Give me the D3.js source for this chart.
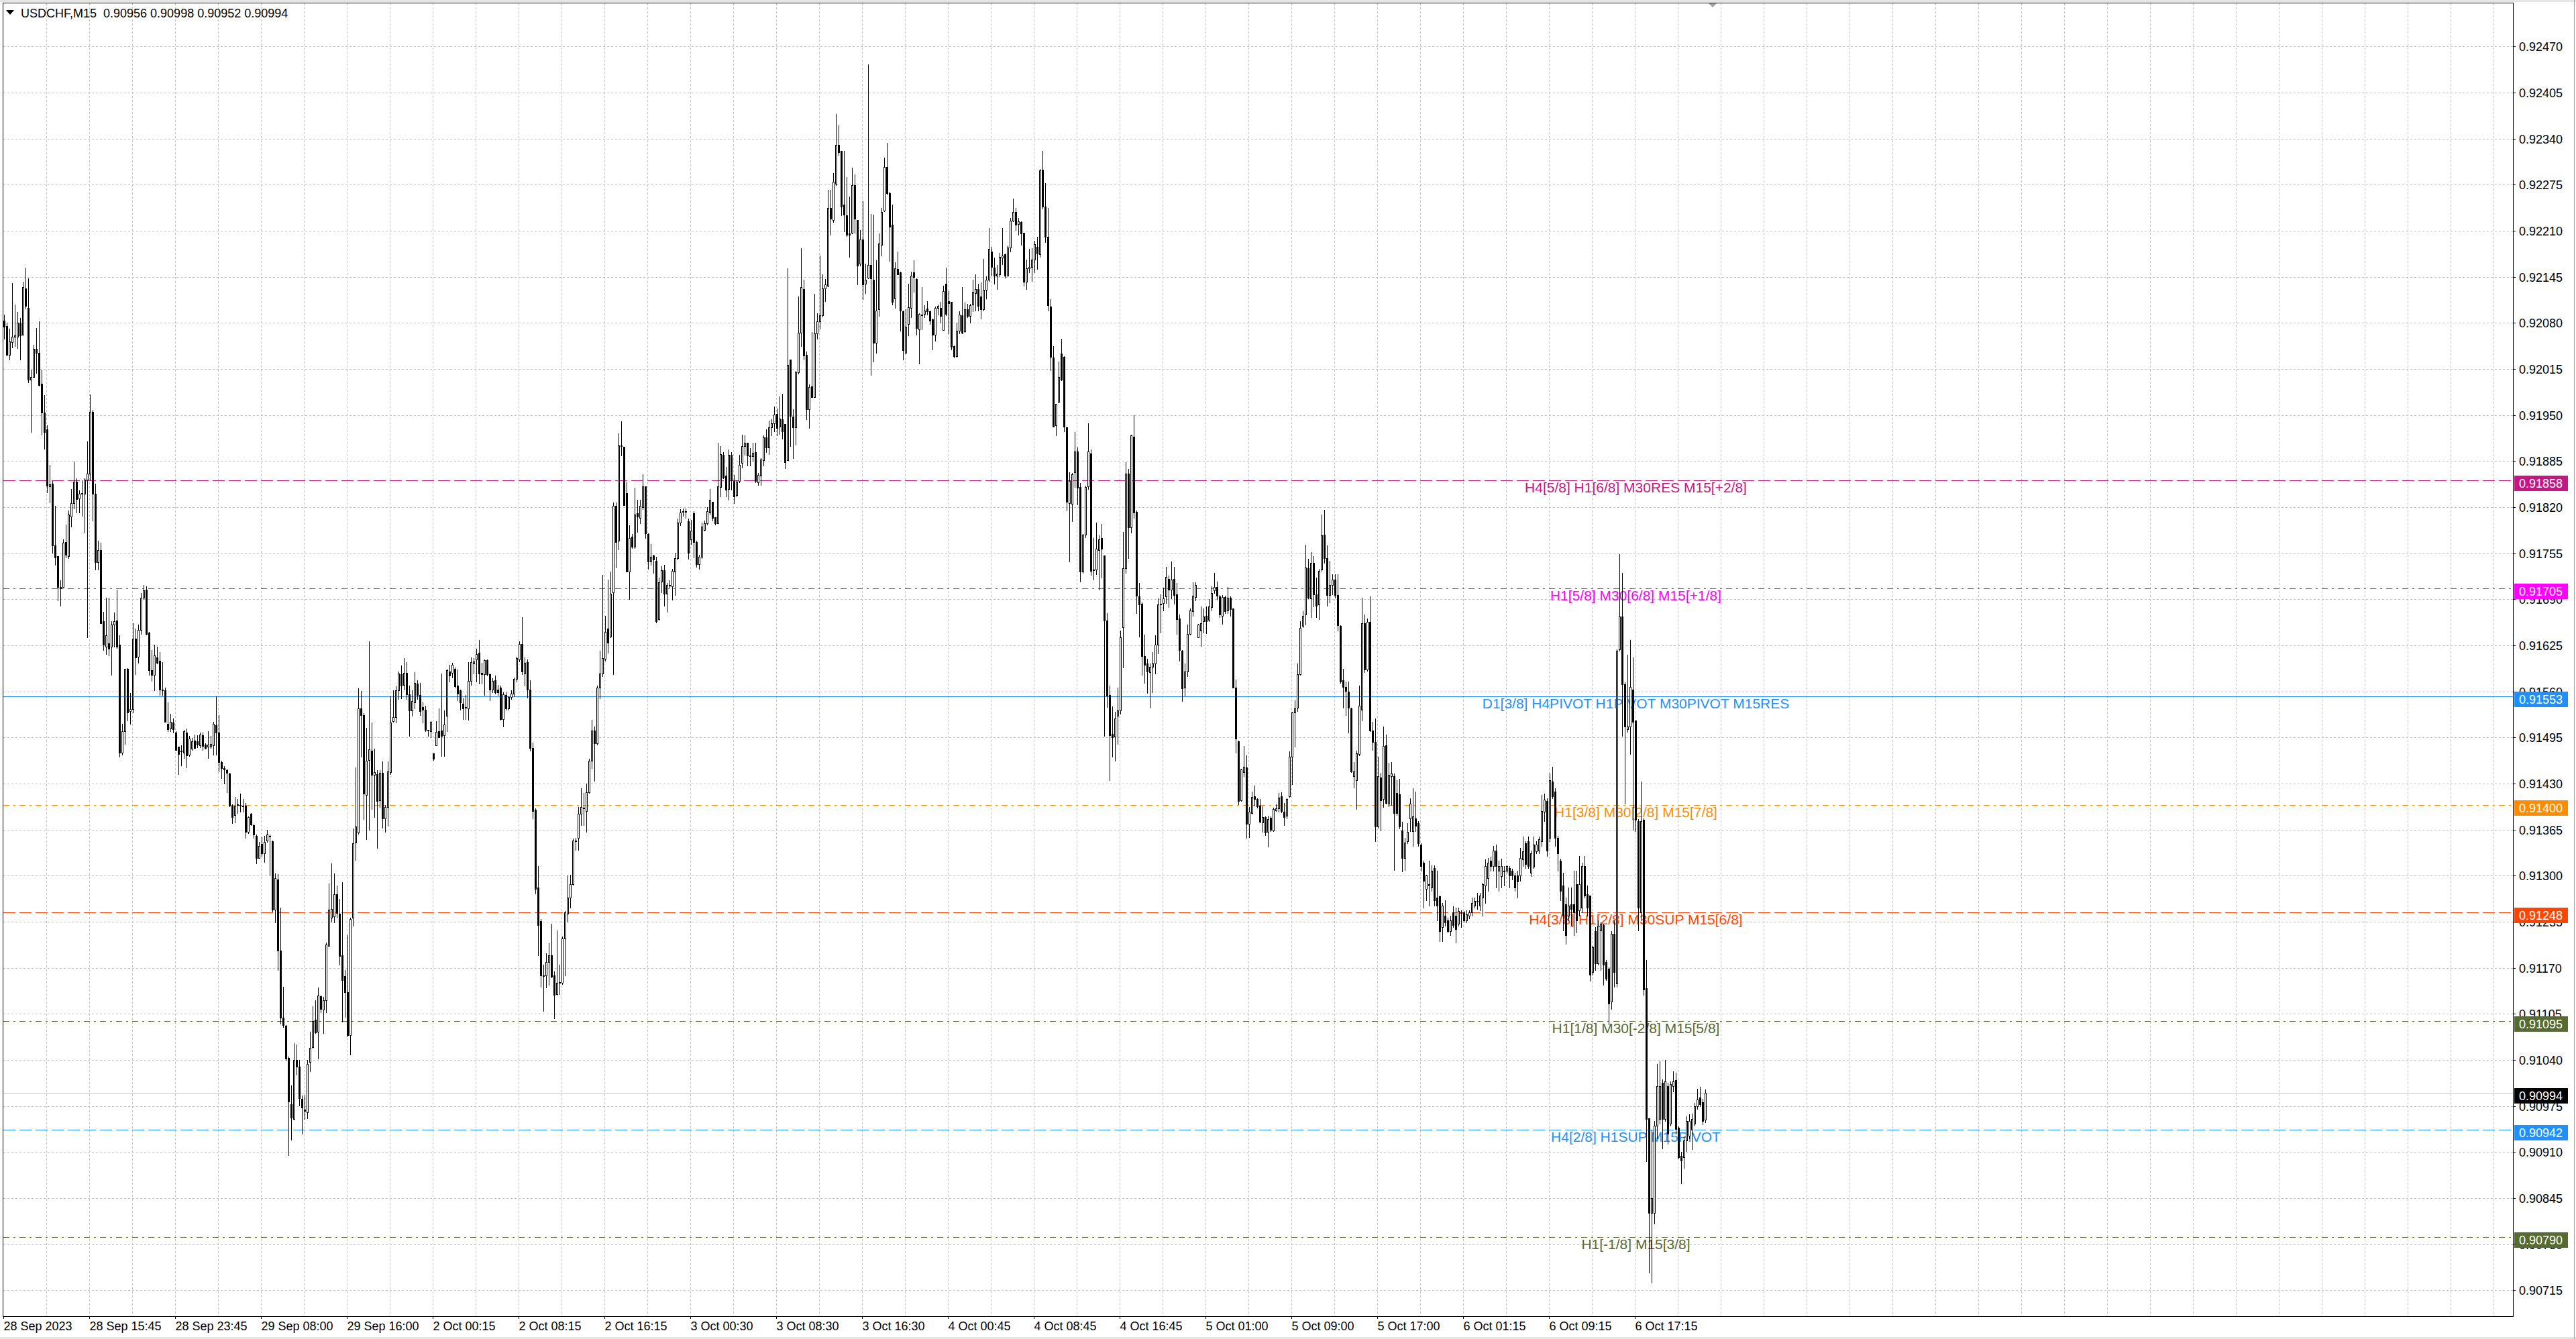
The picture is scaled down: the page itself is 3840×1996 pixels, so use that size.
<!DOCTYPE html>
<html>
<head>
<meta charset="utf-8">
<script src="https://cdn.jsdelivr.net/npm/d3@7"></script>
<style>
  html, body { margin: 0; padding: 0; background: #fff; overflow: hidden; }
  svg { display: block; }
  text { font-family: "Liberation Sans", Arial, sans-serif; }
</style>
</head>
<body>
<div id="chart"></div>
<script>
// USDCHF M15, prices in points above 0.90000 (1 point = 0.00001)
const SYMBOL = 'USDCHF,M15';
const BASE = 0.9, POINT = 0.00001;

const opens = [
  2083,2076,2035,2053,2060,2060,2080,2063,2129,2101, 2000,2004,2043,2038,1994,1953,1930,1849,1853,1766,
  1751,1707,1707,1771,1751,1807,1826,1856,1832,1840, 1839,1859,1867,1954,1839,1742,1759,1659,1623,1628,
  1623,1654,1660,1626,1474,1504,1592,1532,1535,1634, 1609,1647,1692,1704,1643,1590,1583,1608,1603,1563,
  1562,1514,1508,1516,1502,1482,1476,1474,1502,1471, 1479,1491,1490,1484,1498,1485,1482,1482,1484,1512,
  1502,1460,1452,1449,1444,1399,1386,1400,1400,1399, 1399,1362,1387,1371,1356,1325,1345,1332,1350,1356,
  1349,1252,1295,1194,1100,1088,1043,978,957,1040, 1031,985,970,966,1037,1058,1097,1080,1130,1111,
  1124,1201,1241,1243,1274,1246,1188,1158,1136,1075, 1241,1347,1361,1536,1527,1414,1463,1476,1442,1443,
  1406,1445,1381,1397,1446,1518,1524,1562,1584,1569, 1586,1556,1533,1545,1571,1555,1538,1534,1506,1504,
  1473,1484,1504,1505,1498,1526,1588,1586,1592,1568, 1562,1543,1538,1536,1575,1599,1605,1615,1586,1584,
  1604,1584,1563,1576,1563,1565,1521,1555,1536,1552, 1557,1578,1605,1627,1585,1601,1563,1480,1393,1283,
  1236,1159,1159,1178,1188,1159,1133,1149,1149,1211, 1246,1269,1288,1350,1353,1387,1396,1391,1418,1462,
  1505,1487,1565,1585,1606,1649,1637,1700,1822,1773, 1907,1905,1840,1729,1778,1764,1811,1805,1820,1849,
  1782,1743,1752,1744,1662,1715,1731,1698,1710,1708, 1729,1748,1798,1814,1813,1800,1775,1811,1771,1740,
  1750,1788,1797,1812,1828,1806,1797,1848,1894,1864, 1846,1894,1857,1837,1857,1882,1906,1911,1893,1892,
  1898,1855,1864,1886,1918,1904,1933,1938,1952,1934, 1944,1937,1886,2028,1948,1933,2010,2066,2128,2035,
  1958,1990,1975,2065,2082,2091,2129,2132,2242,2225, 2276,2331,2323,2247,2232,2206,2207,2274,2225,2164,
  2198,2135,2144,2162,2141,2052,2099,2190,2238,2300, 2263,2218,2114,2156,2151,2096,2038,2078,2101,2151,
  2142,2071,2092,2093,2100,2096,2085,2063,2101,2101, 2070,2135,2111,2110,2047,2033,2069,2091,2068,2099,
  2090,2106,2122,2128,2117,2099,2127,2141,2181,2158, 2147,2148,2172,2177,2147,2186,2224,2236,2219,2222,
  2207,2138,2157,2159,2169,2187,2177,2296,2244,2201, 2103,2031,1935,1969,2037,2032,1933,1826,1825,1869,
  1899,1848,1729,1781,1849,1896,1732,1732,1759,1776, 1752,1660,1555,1500,1496,1526,1533,1651,1734,1867,
  1792,1919,1813,1694,1684,1610,1599,1587,1595,1599, 1626,1683,1685,1694,1719,1704,1719,1697,1663,1617,
  1565,1588,1641,1673,1693,1636,1646,1659,1667,1661, 1679,1703,1707,1694,1667,1693,1674,1692,1677,1565,
  1490,1406,1446,1453,1373,1388,1412,1408,1399,1375, 1383,1362,1382,1364,1392,1395,1412,1390,1385,1412,
  1468,1530,1537,1584,1652,1669,1734,1691,1741,1697, 1683,1732,1781,1748,1696,1710,1718,1696,1652,1576,
  1566,1560,1536,1440,1435,1472,1534,1656,1591,1658, 1505,1489,1369,1439,1408,1484,1402,1440,1440,1417,
  1415,1364,1325,1349,1381,1363,1381,1374,1344,1318, 1281,1286,1283,1311,1269,1271,1227,1244,1237,1222,
  1248,1244,1232,1248,1248,1237,1244,1248,1258,1264, 1258,1269,1286,1297,1321,1314,1335,1307,1299,1307,
  1307,1311,1307,1300,1300,1300,1323,1346,1349,1304, 1313,1334,1335,1349,1390,1405,1353,1433,1419,1353,
  1321,1286,1260,1244,1260,1260,1288,1251,1255,1314, 1274,1272,1164,1222,1176,1223,1230,1178,1169,1122,
  1218,1148,1619,1666,1570,1507,1510,1563,1519,1377, 1248,1379,1141,958,824,824,947,957,1008,957,
  1003,950,1003,1012,944,905,903,926,933,942, 950,975,987,980,956
];

const highs = [
  2092,2080,2072,2136,2106,2095,2087,2138,2158,2143, 2014,2049,2073,2082,2014,1978,1935,1880,1857,1822,
  1751,1717,1775,1795,1815,1846,1884,1861,1844,1858, 1861,1913,1979,1957,1853,1773,1770,1672,1692,1692,
  1659,1671,1704,1639,1514,1592,1593,1558,1656,1649, 1654,1699,1710,1708,1644,1618,1626,1623,1616,1601,
  1565,1545,1528,1522,1504,1482,1484,1506,1508,1497, 1494,1499,1498,1502,1502,1487,1504,1497,1517,1553,
  1527,1462,1455,1451,1445,1401,1411,1408,1416,1408, 1403,1384,1388,1372,1358,1348,1354,1356,1365,1358,
  1350,1303,1302,1255,1143,1089,1045,1004,1064,1062, 1040,990,990,1040,1080,1116,1124,1142,1131,1129,
  1206,1289,1317,1303,1286,1267,1291,1167,1216,1241, 1367,1453,1564,1561,1529,1509,1631,1516,1479,1449,
  1449,1461,1400,1461,1553,1562,1567,1588,1597,1607, 1601,1568,1562,1587,1576,1572,1545,1540,1506,1518,
  1473,1518,1536,1585,1533,1592,1598,1600,1594,1591, 1563,1550,1555,1601,1608,1607,1620,1633,1600,1605,
  1605,1585,1579,1582,1569,1568,1559,1559,1553,1562, 1580,1609,1631,1665,1608,1605,1576,1488,1395,1314,
  1239,1174,1191,1205,1232,1165,1223,1174,1214,1250, 1300,1301,1352,1353,1397,1423,1417,1430,1465,1520,
  1510,1568,1617,1724,1667,1718,1729,1827,1827,1924, 1941,1905,1855,1794,1782,1847,1830,1830,1866,1849,
  1783,1768,1753,1750,1721,1737,1739,1713,1717,1733, 1756,1804,1817,1818,1818,1804,1802,1814,1773,1753,
  1798,1801,1820,1846,1828,1806,1911,1906,1898,1877, 1901,1898,1865,1858,1894,1922,1921,1911,1903,1911,
  1911,1868,1889,1921,1930,1942,1944,1962,1959,1976, 1980,1937,2157,2028,1958,2012,2117,2185,2141,2040,
  1993,2067,2121,2094,2175,2148,2142,2268,2268,2291, 2375,2359,2323,2323,2286,2258,2299,2289,2225,2211,
  2252,2164,2445,2234,2233,2168,2206,2242,2313,2334, 2265,2247,2165,2181,2152,2097,2099,2135,2152,2168,
  2143,2094,2130,2105,2111,2097,2086,2103,2106,2110, 2132,2158,2125,2110,2048,2080,2096,2130,2109,2107,
  2107,2141,2148,2135,2137,2170,2146,2214,2187,2172, 2162,2179,2214,2178,2189,2228,2255,2242,2228,2223,
  2207,2169,2184,2185,2196,2201,2297,2323,2277,2242, 2113,2047,1966,2025,2058,2033,1934,1869,1868,1926,
  1904,1854,1782,1850,1938,1901,1776,1798,1780,1796, 1752,1670,1568,1539,1531,1565,1646,1785,1883,1874,
  1922,1950,1815,1713,1686,1640,1606,1599,1616,1639, 1691,1697,1706,1736,1723,1743,1736,1713,1669,1618,
  1599,1654,1677,1714,1714,1655,1680,1677,1680,1690, 1708,1727,1715,1696,1696,1695,1707,1694,1677,1577,
  1491,1451,1483,1470,1397,1419,1427,1409,1408,1398, 1384,1385,1384,1396,1401,1417,1418,1403,1409,1475,
  1531,1547,1599,1659,1673,1767,1747,1757,1751,1721, 1733,1810,1816,1766,1744,1725,1725,1725,1653,1592,
  1574,1574,1537,1460,1476,1568,1692,1669,1663,1694, 1517,1522,1468,1445,1510,1499,1459,1460,1444,1435,
  1437,1376,1353,1374,1409,1423,1419,1377,1346,1321, 1301,1321,1315,1315,1307,1272,1262,1265,1241,1244,
  1257,1255,1255,1251,1250,1251,1251,1269,1269,1276, 1276,1290,1323,1325,1327,1342,1344,1321,1324,1314,
  1315,1314,1310,1304,1307,1339,1355,1349,1355,1335, 1355,1349,1355,1414,1416,1409,1444,1454,1423,1356,
  1324,1304,1269,1283,1283,1307,1307,1328,1318,1328, 1286,1272,1201,1227,1237,1234,1232,1181,1171,1222,
  1237,1619,1754,1727,1573,1612,1633,1608,1519,1380, 1433,1381,1181,958,941,954,1034,1038,1013,1040,
  1008,1010,1024,1022,946,910,932,961,963,964, 979,999,1002,985,998
];

const lows = [
  2058,2035,2028,2045,2047,2044,2028,2063,2100,1996, 1926,2004,2009,1991,1922,1902,1841,1827,1756,1739,
  1688,1681,1707,1749,1748,1793,1818,1812,1812,1808, 1784,1636,1859,1801,1732,1732,1656,1618,1613,1611,
  1583,1623,1621,1468,1471,1486,1519,1514,1530,1584, 1600,1641,1690,1640,1583,1575,1562,1599,1555,1555,
  1517,1504,1504,1502,1477,1443,1456,1466,1453,1469, 1477,1479,1481,1481,1477,1479,1466,1480,1471,1471,
  1447,1438,1430,1418,1398,1374,1375,1388,1390,1390, 1353,1360,1371,1353,1317,1325,1328,1319,1348,1301,
  1249,1234,1167,1091,1086,1040,906,927,956,1019, 976,936,957,958,1024,1057,1078,1042,1107,1078,
  1107,1201,1235,1234,1241,1174,1094,1101,1073,1048, 1229,1322,1359,1468,1380,1351,1365,1394,1383,1339,
  1397,1368,1362,1370,1443,1517,1516,1549,1550,1563, 1549,1497,1526,1536,1549,1527,1516,1504,1497,1495,
  1463,1484,1495,1469,1469,1504,1574,1580,1565,1547, 1534,1521,1521,1520,1569,1585,1574,1571,1571,1555,
  1582,1547,1559,1557,1555,1520,1510,1534,1534,1549, 1553,1574,1602,1584,1568,1551,1476,1381,1275,1188,
  1143,1109,1142,1146,1156,1099,1132,1133,1147,1159, 1235,1255,1287,1336,1336,1371,1371,1362,1417,1452,
  1434,1485,1550,1581,1603,1615,1636,1584,1735,1760, 1893,1823,1729,1690,1762,1762,1785,1797,1817,1776,
  1733,1739,1727,1657,1661,1700,1681,1672,1706,1689, 1696,1746,1794,1808,1805,1747,1768,1749,1736,1733,
  1748,1787,1795,1810,1801,1795,1797,1835,1861,1835, 1830,1845,1826,1835,1855,1876,1894,1879,1879,1885,
  1855,1851,1851,1879,1898,1895,1921,1927,1921,1923, 1917,1875,1886,1906,1889,1908,2008,2047,2028,1944,
  1932,1975,1975,2058,2072,2089,2111,2131,2204,2222, 2274,2317,2232,2209,2202,2173,2206,2207,2134,2161,
  2113,2122,2143,2006,2025,2038,2090,2175,2237,2261, 2167,2106,2101,2148,2069,2028,2038,2062,2088,2124,
  2063,2023,2071,2088,2092,2078,2042,2055,2092,2080, 2070,2091,2065,2042,2031,2032,2065,2065,2067,2088,
  2080,2096,2097,2097,2086,2097,2114,2139,2147,2135, 2128,2146,2163,2144,2147,2181,2223,2211,2204,2190,
  2132,2128,2151,2139,2151,2156,2173,2241,2194,2097, 2013,1934,1921,1968,1999,1927,1815,1743,1800,1848,
  1824,1715,1727,1777,1846,1724,1718,1725,1704,1721, 1497,1538,1435,1468,1462,1486,1528,1594,1727,1748,
  1784,1805,1670,1637,1583,1572,1558,1537,1559,1585, 1614,1643,1674,1685,1679,1691,1684,1641,1603,1546,
  1554,1581,1640,1667,1688,1636,1624,1643,1642,1659, 1674,1699,1689,1665,1655,1670,1670,1667,1565,1474,
  1401,1405,1440,1353,1354,1387,1399,1396,1375,1362, 1357,1341,1363,1363,1391,1390,1389,1371,1381,1411,
  1429,1482,1532,1583,1651,1654,1691,1665,1680,1665, 1662,1730,1741,1681,1686,1697,1692,1646,1572,1537,
  1527,1502,1446,1424,1394,1470,1519,1587,1589,1504, 1477,1349,1368,1364,1397,1402,1398,1400,1308,1386,
  1367,1306,1308,1346,1363,1342,1363,1342,1307,1255, 1265,1258,1279,1258,1237,1208,1208,1229,1220,1216,
  1227,1206,1229,1227,1235,1234,1240,1244,1255,1253, 1251,1244,1262,1279,1307,1307,1283,1279,1283,1286,
  1304,1283,1295,1279,1269,1293,1314,1311,1311,1299, 1311,1332,1332,1342,1377,1328,1349,1409,1342,1307,
  1265,1223,1204,1237,1230,1216,1220,1244,1248,1269, 1244,1152,1160,1167,1174,1167,1146,1153,1090,1112,
  1143,1143,1617,1497,1402,1503,1472,1365,1363,1223, 1237,1132,897,740,726,809,929,950,915,954,
  922,947,996,936,901,866,888,911,929,914, 947,971,975,949,952
];

const closes = [
  2075,2035,2054,2060,2062,2080,2062,2130,2104,2000, 2004,2043,2038,1992,1953,1926,1850,1852,1766,1749,
  1707,1705,1770,1753,1810,1826,1856,1831,1839,1840, 1859,1867,1954,1839,1742,1759,1656,1626,1639,1620,
  1654,1659,1623,1474,1504,1592,1530,1535,1634,1608, 1647,1692,1703,1641,1590,1583,1611,1600,1563,1563,
  1517,1507,1517,1507,1477,1472,1476,1504,1470,1493, 1490,1480,1485,1499,1483,1480,1485,1486,1514,1502,
  1460,1452,1450,1445,1399,1383,1399,1401,1400,1398, 1362,1383,1372,1358,1325,1342,1332,1348,1358,1356,
  1252,1297,1194,1100,1089,1042,981,959,1040,1031, 986,973,968,1034,1057,1095,1079,1131,1112,1124,
  1203,1252,1253,1274,1247,1187,1153,1136,1075,1239, 1346,1369,1536,1527,1416,1462,1478,1442,1446,1405,
  1445,1381,1397,1447,1516,1524,1562,1585,1568,1586, 1556,1533,1546,1572,1555,1532,1534,1506,1506,1517,
  1465,1503,1495,1497,1513,1590,1582,1598,1567,1557, 1545,1536,1538,1575,1601,1602,1613,1585,1584,1604,
  1584,1563,1575,1559,1559,1521,1556,1536,1552,1557, 1578,1607,1627,1588,1600,1563,1480,1391,1281,1230,
  1159,1159,1178,1188,1157,1132,1149,1150,1211,1248, 1269,1288,1350,1350,1387,1397,1396,1418,1462,1505,
  1487,1565,1585,1607,1644,1629,1698,1822,1771,1907, 1907,1823,1729,1776,1764,1810,1807,1822,1849,1783,
  1743,1750,1746,1659,1714,1731,1698,1710,1710,1730, 1748,1798,1812,1814,1814,1756,1787,1771,1740,1750,
  1793,1797,1814,1830,1805,1797,1849,1895,1862,1845, 1894,1858,1835,1856,1880,1906,1911,1893,1893,1897,
  1857,1865,1887,1918,1904,1933,1938,1951,1932,1945, 1927,1883,2021,1949,1933,2010,2066,2130,2034,1958,
  1989,1975,2065,2082,2091,2129,2134,2242,2227,2279, 2331,2321,2244,2233,2204,2204,2274,2227,2161,2198,
  2134,2141,2162,2143,2052,2097,2192,2236,2300,2263, 2216,2110,2157,2148,2097,2041,2075,2102,2147,2145,
  2073,2093,2092,2097,2096,2083,2063,2101,2104,2090, 2125,2093,2108,2046,2033,2069,2092,2066,2099,2090,
  2105,2124,2128,2104,2099,2127,2141,2184,2159,2147, 2149,2173,2175,2147,2186,2224,2236,2218,2223,2206,
  2138,2157,2159,2169,2191,2178,2295,2244,2201,2105, 2032,1934,1966,2004,2000,1934,1828,1857,1866,1899,
  1847,1729,1781,1848,1899,1730,1732,1761,1775,1761, 1660,1554,1498,1495,1522,1533,1636,1734,1867,1792,
  1921,1812,1695,1683,1610,1598,1588,1595,1599,1626, 1683,1684,1691,1722,1704,1718,1696,1662,1618,1564,
  1588,1641,1674,1695,1710,1654,1656,1666,1659,1680, 1699,1707,1695,1669,1693,1673,1692,1676,1565,1493,
  1405,1450,1454,1373,1390,1411,1408,1398,1376,1383, 1361,1380,1365,1394,1395,1410,1391,1383,1408,1468,
  1530,1536,1584,1650,1667,1735,1692,1741,1697,1681, 1730,1780,1748,1696,1710,1718,1696,1653,1574,1566,
  1561,1537,1447,1447,1473,1540,1656,1591,1658,1505, 1489,1369,1440,1406,1483,1403,1442,1444,1388,1388,
  1369,1325,1347,1362,1402,1384,1370,1346,1314,1293, 1300,1288,1307,1265,1258,1222,1258,1234,1222,1237,
  1230,1225,1250,1248,1237,1245,1248,1262,1264,1264, 1272,1288,1314,1318,1314,1335,1314,1314,1314,1307,
  1314,1300,1300,1283,1292,1325,1334,1316,1314,1332, 1344,1344,1351,1391,1407,1335,1435,1412,1353,1332,
  1279,1244,1216,1258,1253,1248,1237,1288,1314,1272, 1255,1160,1199,1176,1229,1232,1174,1155,1120,1218,
  1164,1617,1666,1570,1510,1510,1566,1517,1379,1255, 1377,1139,957,824,845,947,1003,1003,957,1010,
  936,1006,1010,943,903,898,926,954,954,957, 975,984,978,954,994
];

// right scale ticks
const priceTicks = [
  0.92470, 0.92405, 0.92340, 0.92275, 0.92210, 0.92145, 0.92080, 0.92015, 0.91950, 0.91885,
  0.91820, 0.91755, 0.91690, 0.91625, 0.91560, 0.91495, 0.91430, 0.91365, 0.91300, 0.91235,
  0.91170, 0.91105, 0.91040, 0.90975, 0.90910, 0.90845, 0.90780, 0.90715
];

// time axis: one label every 32 bars
const timeLabels = [
  '28 Sep 2023', '28 Sep 15:45', '28 Sep 23:45', '29 Sep 08:00', '29 Sep 16:00',
  '2 Oct 00:15', '2 Oct 08:15', '2 Oct 16:15', '3 Oct 00:30', '3 Oct 08:30',
  '3 Oct 16:30', '4 Oct 00:45', '4 Oct 08:45', '4 Oct 16:45', '5 Oct 01:00',
  '5 Oct 09:00', '5 Oct 17:00', '6 Oct 01:15', '6 Oct 09:15', '6 Oct 17:15'
];
const timeLabelBars = [0, 32, 64, 96, 128, 160, 192, 224, 256, 288, 320, 352, 384, 416, 448, 480, 512, 544, 576, 608];

// murrey / pivot levels
const levelPrices = [0.91858, 0.91705, 0.91553, 0.91400, 0.91248, 0.91095, 0.90942, 0.90790];
const levelLabels = [
  'H4[5/8] H1[6/8] M30RES M15[+2/8]',
  'H1[5/8] M30[6/8] M15[+1/8]',
  'D1[3/8] H4PIVOT H1PIVOT M30PIVOT M15RES',
  'H1[3/8] M30[2/8] M15[7/8]',
  'H4[3/8] H1[2/8] M30SUP M15[6/8]',
  'H1[1/8] M30[-2/8] M15[5/8]',
  'H4[2/8] H1SUP M15PIVOT',
  'H1[-1/8] M15[3/8]'
];
const labelBar = 608;

// ---- styles ----
const levelStyles = [
  { color: '#C71585', dash: '18,6' },
  { color: '#FF00FF', dash: '9,6,3,6' },
  { color: '#1E90FF', dash: null },
  { color: '#FF8C00', dash: '9,6,3,6' },
  { color: '#FF4500', dash: '18,6' },
  { color: '#556B2F', dash: '9,6,3,6' },
  { color: '#1E90FF', dash: '18,6' },
  { color: '#556B2F', dash: '9,6,3,6' }
];

const W = 3840, H = 1996;
const plot = { left: 5, top: 5, right: 3746, bottom: 1962 };
const N = closes.length;
const toPrice = v => BASE + v * POINT;

const x = d3.scaleLinear().domain([0, N]).range([plot.left, plot.left + 4 * N]);
const y = d3.scaleLinear().domain([0.906780, 0.925313]).range([1962.5, 4.5]);
const py = p => Math.round(y(p));

const svg = d3.select('#chart').append('svg')
  .attr('width', W).attr('height', H)
  .attr('shape-rendering', 'crispEdges');

svg.append('rect').attr('width', W).attr('height', H).attr('fill', '#fff');

// grid
const grid = svg.append('g').attr('stroke', '#C0C0C0').attr('stroke-dasharray', '3,3');
grid.selectAll('line.h').data(priceTicks).join('line')
  .attr('x1', plot.left).attr('x2', plot.right)
  .attr('y1', d => py(d) + 0.5).attr('y2', d => py(d) + 0.5);
const vGrid = d3.range(16, 16 * 59, 16).filter(i => x(i) < plot.right);
grid.selectAll('line.v').data(vGrid).join('line')
  .attr('x1', d => x(d) + 0.5).attr('x2', d => x(d) + 0.5)
  .attr('y1', plot.top).attr('y2', plot.bottom);

// level lines + labels
const levels = levelPrices.map((p, i) => ({ p, label: levelLabels[i], ...levelStyles[i] }));
const lv = svg.append('g');
lv.selectAll('line').data(levels).join('line')
  .attr('x1', plot.left).attr('x2', plot.right)
  .attr('y1', d => py(d.p) + 0.5).attr('y2', d => py(d.p) + 0.5)
  .attr('stroke', d => d.color)
  .attr('stroke-dasharray', d => d.dash);
lv.selectAll('text').data(levels).join('text')
  .attr('x', x(labelBar) + 1.5)
  .attr('y', d => py(d.p) + 18)
  .attr('text-anchor', 'middle')
  .attr('font-size', 21)
  .attr('fill', d => d.color)
  .text(d => d.label);

// bid line
const last = N - 1;
const bid = toPrice(closes[last]);
svg.append('line')
  .attr('x1', plot.left).attr('x2', plot.right)
  .attr('y1', py(bid) + 0.5).attr('y2', py(bid) + 0.5)
  .attr('stroke', '#C0C0C0');

// candles
const bars = d3.range(N).map(i => ({
  i, o: toPrice(opens[i]), h: toPrice(highs[i]), l: toPrice(lows[i]), c: toPrice(closes[i])
}));
const cg = svg.append('g');
cg.selectAll('line').data(bars).join('line')
  .attr('x1', d => x(d.i) + 1.5).attr('x2', d => x(d.i) + 1.5)
  .attr('y1', d => py(d.h)).attr('y2', d => py(d.l) + 1)
  .attr('stroke', '#000');
cg.selectAll('rect').data(bars).join('rect')
  .each(function (d) {
    const top = py(Math.max(d.o, d.c));
    const bot = py(Math.min(d.o, d.c));
    const r = d3.select(this);
    if (d.c >= d.o) {
      r.attr('x', x(d.i) + 0.5).attr('y', top + 0.5)
        .attr('width', 2).attr('height', Math.max(1, bot - top))
        .attr('fill', '#fff').attr('stroke', '#000');
    } else {
      r.attr('x', x(d.i)).attr('y', top)
        .attr('width', 3).attr('height', Math.max(1, bot - top + 1))
        .attr('fill', '#000');
    }
  });

// plot border
svg.append('rect')
  .attr('x', plot.left - 0.5).attr('y', plot.top - 0.5)
  .attr('width', plot.right - plot.left + 1).attr('height', plot.bottom - plot.top + 1)
  .attr('fill', 'none').attr('stroke', '#000');

// price scale
const ax = svg.append('g');
ax.selectAll('line').data(priceTicks).join('line')
  .attr('x1', plot.right + 1).attr('x2', plot.right + 4)
  .attr('y1', d => py(d) + 0.5).attr('y2', d => py(d) + 0.5)
  .attr('stroke', '#000');
ax.selectAll('text').data(priceTicks).join('text')
  .attr('x', 3755).attr('y', d => py(d) + 6.5)
  .attr('font-size', 18).attr('fill', '#000')
  .text(d => d.toFixed(5));

// price tags for levels and bid
const tags = levels.map(d => ({ p: d.p, color: d.color }))
  .concat([{ p: bid, color: '#000' }]);
const tg = svg.append('g');
tg.selectAll('rect').data(tags).join('rect')
  .attr('x', plot.right + 2).attr('y', d => py(d.p) - 7)
  .attr('width', 80).attr('height', 23)
  .attr('fill', d => d.color);
tg.selectAll('text').data(tags).join('text')
  .attr('x', 3755).attr('y', d => py(d.p) + 11)
  .attr('font-size', 18).attr('fill', '#fff')
  .text(d => d.p.toFixed(5));

// time scale
const tx = svg.append('g');
tx.selectAll('line').data(timeLabelBars).join('line')
  .attr('x1', d => x(d) + 0.5).attr('x2', d => x(d) + 0.5)
  .attr('y1', plot.bottom).attr('y2', plot.bottom + 4)
  .attr('stroke', '#000');
tx.selectAll('text').data(timeLabels).join('text')
  .attr('x', (d, i) => x(timeLabelBars[i]) + 0.5)
  .attr('y', 1983)
  .attr('font-size', 18).attr('fill', '#000')
  .text(d => d);

// title
const fmt = v => toPrice(v).toFixed(5);
svg.append('path')
  .attr('d', 'M9,15 L21,15 L15,22 Z')
  .attr('fill', '#000').attr('shape-rendering', 'auto');
svg.append('text')
  .attr('x', 31).attr('y', 26)
  .attr('font-size', 18).attr('fill', '#000')
  .style('white-space', 'pre')
  .text(`${SYMBOL}  ${fmt(opens[last])} ${fmt(highs[last])} ${fmt(lows[last])} ${fmt(closes[last])}`);

// window frame and shift marker
const frame = svg.append('g').attr('stroke', '#A0A0A0').attr('fill', 'none');
frame.append('line').attr('x1', 0).attr('x2', W).attr('y1', 1.5).attr('y2', 1.5);
frame.append('line').attr('x1', 3837.5).attr('x2', 3837.5).attr('y1', 0).attr('y2', H);
frame.append('line').attr('x1', 0).attr('x2', W).attr('y1', 1994.5).attr('y2', 1994.5);
svg.append('path')
  .attr('d', `M${x(N) + 2},5 L${x(N) + 14},5 L${x(N) + 8},11 Z`)
  .attr('fill', '#A0A0A0').attr('shape-rendering', 'auto');
</script>
</body>
</html>
